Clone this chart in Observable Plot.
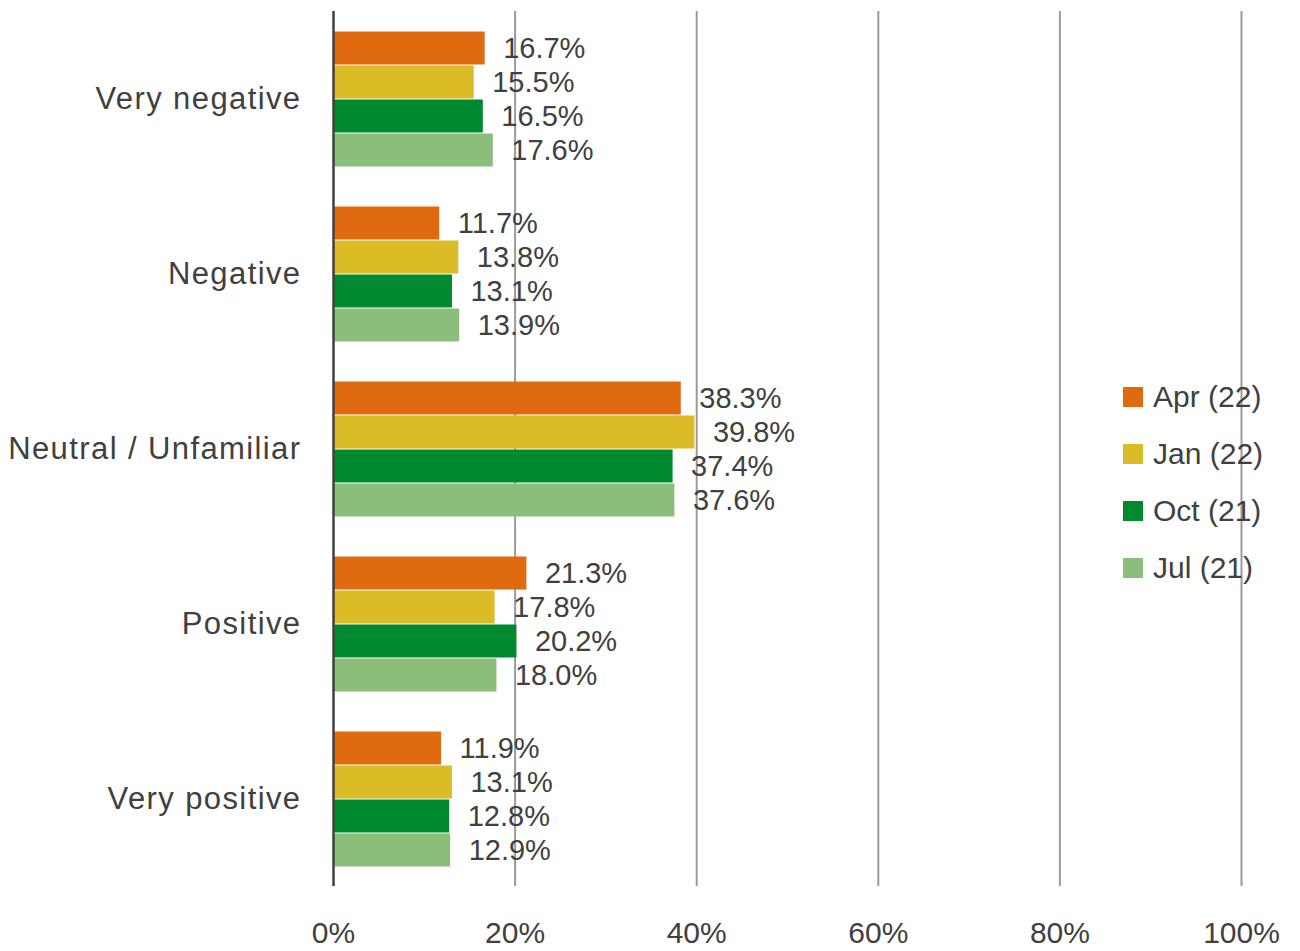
<!DOCTYPE html>
<html>
<head>
<meta charset="utf-8">
<script src="https://cdn.jsdelivr.net/npm/d3@7"></script>
<script src="https://cdn.jsdelivr.net/npm/@observablehq/plot@0.6"></script>
<style>
  body { margin: 0; background: #fff; }
  #wrap { position: relative; width: 1300px; height: 951px; font-family: "Liberation Sans", Arial, sans-serif; color: #404040; }
  #legend { position: absolute; left: 1123px; top: 368px; }
  .li { display: flex; align-items: center; height: 57px; font-size: 30px; position: relative; }
  .sw { width: 20px; height: 20px; margin-right: 10px; }
</style>
</head>
<body>
<div id="wrap"><div id="legend"></div></div>
<script>
const categories = ["Very negative", "Negative", "Neutral / Unfamiliar", "Positive", "Very positive"];
const series = ["Apr (22)", "Jan (22)", "Oct (21)", "Jul (21)"];
const colors = ["#E06A10", "#DBBC26", "#00892E", "#8BBE7B"];
const apr = [16.7, 11.7, 38.3, 21.3, 11.9];
const jan = [15.5, 13.8, 39.8, 17.8, 13.1];
const oct = [16.5, 13.1, 37.4, 20.2, 12.8];
const jul = [17.6, 13.9, 37.6, 18.0, 12.9];
const xTicks = [0, 20, 40, 60, 80, 100];

const seriesValues = [apr, jan, oct, jul];
const data = [];
categories.forEach((c, i) => {
  series.forEach((s, j) => {
    data.push({category: c, series: s, value: seriesValues[j][i]});
  });
});

const chart = Plot.plot({
  width: 1300,
  height: 951,
  marginLeft: 333,
  marginRight: 59,
  marginTop: 10,
  marginBottom: 64,
  style: {fontFamily: "Liberation Sans, Arial, sans-serif", color: "#404040", background: "#fff"},
  x: {domain: [0, 100]},
  y: {domain: series, axis: null, paddingInner: 0, paddingOuter: 0.535},
  fy: {domain: categories, padding: 0},
  color: {domain: series, range: colors},
  marks: [
    Plot.gridX(xTicks.filter(d => d > 0), {stroke: "#9a9a9a", strokeOpacity: 1, strokeWidth: 2}),
    Plot.barX(data, {x: "value", y: "series", fy: "category", fill: "series", insetTop: 0.5, insetBottom: 0.5}),
    Plot.ruleX([0], {stroke: "#404040", strokeWidth: 2.5}),
    Plot.text(data, {x: "value", y: "series", fy: "category", text: d => d.value.toFixed(1) + "%", textAnchor: "start", dx: 18, fontSize: 29, fill: "#404040"}),
    Plot.axisX(xTicks, {tickSize: 0, tickPadding: 35, fontSize: 30, tickFormat: d => d + "%", label: null}),
    Plot.axisFy({anchor: "left", tickSize: 0, tickPadding: 32, fontSize: 31, label: null})
  ]
});

d3.select(chart).selectAll('[aria-label="fy-axis tick label"] text').style("letter-spacing", "1.4px");
document.getElementById("wrap").prepend(chart);

const legend = d3.select("#legend");
series.forEach((s, j) => {
  const item = legend.append("div").attr("class", "li");
  item.append("div").attr("class", "sw").style("background", colors[j]);
  item.append("span").text(s);
});
</script>
</body>
</html>
